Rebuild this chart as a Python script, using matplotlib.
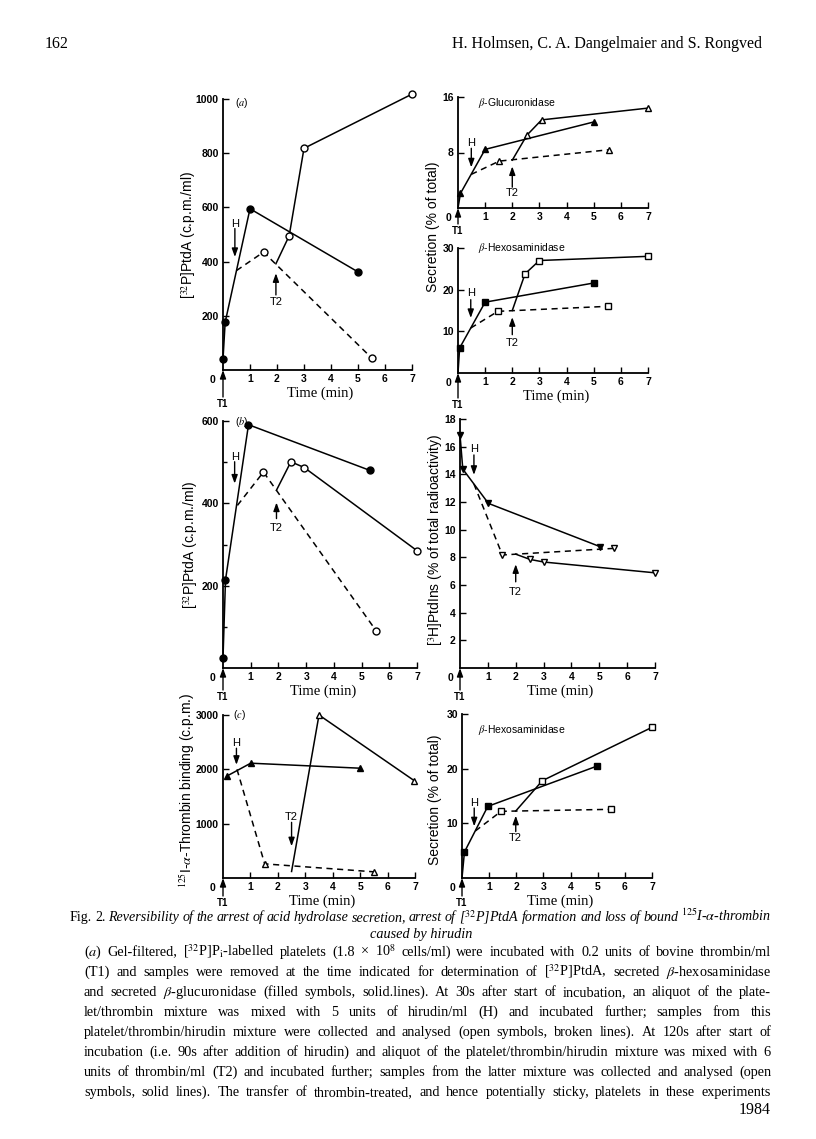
import matplotlib.pyplot as plt

plt.rcParams['font.family'] = ['Liberation Sans', 'DejaVu Sans']
plt.rcParams['mathtext.fontset'] = 'stix'

W, H = 816, 1139
SERIF = 'Liberation Serif'

# ---- data (time in min) ----
# (a) [32P]PtdA, c.p.m./ml ; first vertex of hirudin / T2 series is the branch point
a_ctrl_t = [0, 0.08, 1.0, 5.0]
a_ctrl_v = [40, 176, 595, 362]
a_hir_t = [0.5, 1.5, 5.5]
a_hir_v = [367, 435, 45]
a_t2_t = [1.96, 2.45, 3.0, 7.0]
a_t2_v = [392, 495, 818, 1018]

# (a) beta-glucuronidase secretion, % of total
gl_ctrl_t = [0, 0.09, 1.0, 5.0]
gl_ctrl_v = [0, 2.1, 8.45, 12.4]
gl_hir_t = [0.49, 1.52, 5.57]
gl_hir_v = [4.85, 6.76, 8.4]
gl_t2_t = [2.0, 2.54, 3.08, 7.0]
gl_t2_v = [6.9, 10.5, 12.7, 14.4]

# (a) beta-hexosaminidase secretion, % of total
hx_ctrl_t = [0, 0.06, 1.0, 5.0]
hx_ctrl_v = [0, 6.0, 17.0, 21.6]
hx_hir_t = [0.47, 1.47, 5.51]
hx_hir_v = [10.8, 14.8, 16.0]
hx_t2_t = [2.0, 2.47, 3.0, 7.0]
hx_t2_v = [15.0, 23.8, 27.0, 28.0]

# (b) [32P]PtdA, c.p.m./ml
b_ctrl_t = [0, 0.09, 0.92, 5.3]
b_ctrl_v = [24, 214, 591, 480]
b_hir_t = [0.52, 1.46, 5.53]
b_hir_v = [395, 476, 90]
b_t2_t = [1.93, 2.45, 2.93, 7.0]
b_t2_v = [432, 501, 487, 285]

# (b) [3H]PtdIns, % of total radioactivity
pi_ctrl_t = [0, 0.1, 1.02, 5.03]
pi_ctrl_v = [16.86, 14.38, 11.9, 8.77]
pi_hir_t = [0.5, 1.52, 5.54]
pi_hir_v = [13.3, 8.17, 8.65]
pi_t2_t = [2.0, 2.51, 3.01, 7.0]
pi_t2_v = [8.23, 7.85, 7.66, 6.88]

# (c) 125I-alpha-thrombin binding, c.p.m.
c_ctrl_t = [0.16, 1.01, 4.99]
c_ctrl_v = [1881, 2113, 2021]
c_hir_t = [0.51, 1.52, 5.52]
c_hir_v = [2000, 260, 113]
c_t2_t = [2.5, 3.5, 6.98]
c_t2_v = [120, 3000, 1789]

# (c) beta-hexosaminidase secretion, % of total
ch_ctrl_t = [0, 0.09, 0.95, 4.99]
ch_ctrl_v = [0, 4.76, 13.1, 20.5]
ch_hir_t = [0.49, 1.44, 5.48]
ch_hir_v = [8.6, 12.2, 12.56]
ch_t2_t = [1.98, 2.96, 7.0]
ch_t2_v = [12.25, 17.8, 27.56]

fig = plt.figure(figsize=(W / 100, H / 100), dpi=100)


def axes_px(x0, x1, ytop, ybot):
    return fig.add_axes([x0 / W, 1 - ybot / H, (x1 - x0) / W, (ybot - ytop) / H])


def frame(ax, ymax, yticks, time_label=True, t1_drop=29, minor=None):
    ax.set_xlim(0, 7)
    ax.set_ylim(0, ymax)
    ax.patch.set_visible(False)
    for s in ['top', 'right']:
        ax.spines[s].set_visible(False)
    for s in ['left', 'bottom']:
        ax.spines[s].set_linewidth(1.3)
    ax.set_xticks(range(1, 8))
    ax.set_yticks(yticks)
    if minor:
        ax.set_yticks(minor, minor=True)
        ax.tick_params(axis='y', which='minor', direction='in', length=3, width=1)
    ax.tick_params(direction='in', length=4, width=1, labelsize=7.5, pad=3)
    for lab in ax.get_xticklabels() + ax.get_yticklabels():
        lab.set_fontweight('bold')
    xy = dict(xy=(0, 0), xycoords=('data', 'axes fraction'), textcoords='offset pixels')
    ax.annotate('0', xytext=(-10, -10), ha='center', va='center',
                fontsize=7.5, fontweight='bold', **xy)
    ax.annotate('', xytext=(0, -(t1_drop - 7)), annotation_clip=False,
                arrowprops=dict(arrowstyle='-|>,head_length=0.5,head_width=0.18',
                                lw=1, color='k', shrinkA=0, shrinkB=0), **xy)
    ax.annotate('T1', xytext=(0, -t1_drop), ha='center', va='center',
                fontsize=7, fontweight='bold', **xy)
    if time_label:
        ax.annotate('Time (min)', xy=(3.6, 0), xycoords=('data', 'axes fraction'),
                    xytext=(0, -23), textcoords='offset pixels', ha='center',
                    va='center', fontsize=10.5, family=SERIF)


def series(ax, t, v, marker, filled, dashed=False, first=0, ms=5):
    ax.plot(t, v, color='k', lw=1.1, ls=(0, (4, 3)) if dashed else '-',
            marker=marker, ms=ms, mfc='k' if filled else 'white', mec='k',
            mew=1, markevery=slice(first, None), clip_on=False, zorder=3)


def arrow(ax, x, label, ty, tail, tip):
    ax.annotate('', xy=(x, tip), xytext=(x, tail), annotation_clip=False,
                arrowprops=dict(arrowstyle='-|>,head_length=0.5,head_width=0.18',
                                lw=1, color='k', shrinkA=0, shrinkB=0))
    ax.text(x, ty, label, ha='center', va='center', fontsize=8)


# ---------- panel (a) left ----------
ax = axes_px(223, 412, 99, 370)
frame(ax, 1000, [200, 400, 600, 800, 1000], t1_drop=34)
series(ax, a_ctrl_t, a_ctrl_v, 'o', True)
series(ax, a_hir_t, a_hir_v, 'o', False, dashed=True, first=1)
series(ax, a_t2_t, a_t2_v, 'o', False, first=1)
arrow(ax, 0.44, 'H', 539, 522, 417)
arrow(ax, 1.96, 'T2', 250, 277, 357)

# ---------- glucuronidase ----------
ax = axes_px(458, 648, 97, 208)
frame(ax, 16, [8, 16], time_label=False, t1_drop=23)
series(ax, gl_ctrl_t, gl_ctrl_v, '^', True, first=1, ms=4.5)
series(ax, gl_hir_t, gl_hir_v, '^', False, dashed=True, first=1, ms=4.5)
series(ax, gl_t2_t, gl_t2_v, '^', False, first=1, ms=4.5)
arrow(ax, 0.49, 'H', 9.4, 8.6, 5.85)
arrow(ax, 2.0, 'T2', 2.1, 3.0, 6.0)

# ---------- hexosaminidase (a) ----------
ax = axes_px(458, 648, 248, 373)
frame(ax, 30, [10, 20, 30], t1_drop=32)
series(ax, hx_ctrl_t, hx_ctrl_v, 's', True, first=1, ms=4)
series(ax, hx_hir_t, hx_hir_v, 's', False, dashed=True, first=1, ms=4)
series(ax, hx_t2_t, hx_t2_v, 's', False, first=1, ms=4)
arrow(ax, 0.47, 'H', 19.2, 17.6, 13.2)
arrow(ax, 2.0, 'T2', 7.2, 9.2, 13.4)

# ---------- panel (b) left ----------
ax = axes_px(223, 417, 421, 668)
frame(ax, 600, [200, 400, 600], minor=[100, 300, 500])
series(ax, b_ctrl_t, b_ctrl_v, 'o', True)
series(ax, b_hir_t, b_hir_v, 'o', False, dashed=True, first=1)
series(ax, b_t2_t, b_t2_v, 'o', False, first=1)
arrow(ax, 0.42, 'H', 513, 501, 448)
arrow(ax, 1.93, 'T2', 340, 363, 402)

# ---------- PtdIns ----------
ax = axes_px(460, 655, 419, 668)
frame(ax, 18, list(range(2, 19, 2)))
series(ax, pi_ctrl_t, pi_ctrl_v, 'v', True)
series(ax, pi_hir_t, pi_hir_v, 'v', False, dashed=True, first=1, ms=4.5)
series(ax, pi_t2_t, pi_t2_v, 'v', False, first=1, ms=4.5)
arrow(ax, 0.5, 'H', 15.8, 15.4, 13.96)
arrow(ax, 2.0, 'T2', 5.5, 6.23, 7.5)

# ---------- panel (c) left ----------
ax = axes_px(223, 415, 715, 878)
frame(ax, 3000, [1000, 2000, 3000], t1_drop=25)
series(ax, c_ctrl_t, c_ctrl_v, '^', True, ms=4.5)
series(ax, c_hir_t, c_hir_v, '^', False, dashed=True, first=1, ms=4.5)
series(ax, c_t2_t, c_t2_v, '^', False, first=1, ms=4.5)
arrow(ax, 0.49, 'H', 2480, 2388, 2083)
arrow(ax, 2.5, 'T2', 1122, 1024, 584)

# ---------- hexosaminidase (c) ----------
ax = axes_px(462, 652, 714, 878)
frame(ax, 30, [10, 20, 30], t1_drop=25)
series(ax, ch_ctrl_t, ch_ctrl_v, 's', True, first=1, ms=4)
series(ax, ch_hir_t, ch_hir_v, 's', False, dashed=True, first=1, ms=4)
series(ax, ch_t2_t, ch_t2_v, 's', False, first=1, ms=4)
arrow(ax, 0.45, 'H', 13.7, 12.8, 9.45)
arrow(ax, 1.98, 'T2', 7.3, 8.5, 11.4)

# ---------- axis titles, panel letters, enzyme names ----------
def ftext(x, y, s, **kw):
    fig.text(x / W, 1 - y / H, s, **kw)


ylab = dict(rotation=90, ha='center', va='center', fontsize=10)
ftext(189, 235, r'[$^{32}$P]PtdA (c.p.m./ml)', **ylab)
ftext(433, 227, 'Secretion (% of total)', **ylab)
ftext(191, 545, r'[$^{32}$P]PtdA (c.p.m./ml)', **ylab)
ftext(436, 540, r'[$^{3}$H]PtdIns (% of total radioactivity)', **ylab)
ftext(187, 790, r'$^{125}$I-$\alpha$-Thrombin binding (c.p.m.)', **ylab)
ftext(435, 800, 'Secretion (% of total)', **ylab)

for (x, y, s) in [(242, 103, r'($a$)'), (242, 422, r'($b$)'), (239, 715, r'($c$)')]:
    ftext(x, y, s, ha='center', va='center', fontsize=7.5)
for (y, s) in [(103, r'$\beta$-Glucuronidase'), (248, r'$\beta$-Hexosaminidase'),
               (730, r'$\beta$-Hexosaminidase')]:
    ftext(478, y, s, ha='left', va='center', fontsize=7.5)

# ---------- page header / footer ----------
ftext(45, 44, '162', ha='left', va='center', fontsize=11.5, family=SERIF)
ftext(762, 44, 'H. Holmsen, C. A. Dangelmaier and S. Rongved', ha='right',
      va='center', fontsize=11.5, family=SERIF)
ftext(771, 1110, '1984', ha='right', va='center', fontsize=11.5, family=SERIF)

# ---------- caption (justified) ----------
renderer = fig.canvas.get_renderer()


def justified(line, y, x0, x1, size=10.3, italic_from=None):
    words = line.split(' ')
    arts = []
    for i, w in enumerate(words):
        st = 'italic' if italic_from is not None and i >= italic_from else 'normal'
        arts.append(fig.text(0, 1 - y / H, w, fontsize=size, family=SERIF,
                             style=st, va='baseline'))
    widths = [a.get_window_extent(renderer).width for a in arts]
    if sum(widths) + 3 * (len(words) - 1) > x1 - x0:
        for a in arts:
            a.remove()
        scale = (x1 - x0 - 3 * (len(words) - 1)) / sum(widths)
        return justified(line, y, x0, x1, size * scale, italic_from)
    gap = (x1 - x0 - sum(widths)) / (len(words) - 1)
    x = x0
    for a, wd in zip(arts, widths):
        a.set_x(x / W)
        x += wd + gap


justified(r'Fig. 2. Reversibility of the arrest of acid hydrolase secretion, arrest of '
          r'[$^{32}$P]PtdA formation and loss of bound $^{125}$I-$\alpha$-thrombin',
          921, 70, 771, italic_from=2)
ftext(421, 938, 'caused by hirudin', ha='center', va='baseline', fontsize=10.3,
      family=SERIF, style='italic')

caption = [
    r'($a$) Gel-filtered, [$^{32}$P]P$_\mathrm{i}$-labelled platelets (1.8 × 10$^{8}$ cells/ml) '
    r'were incubated with 0.2 units of bovine thrombin/ml',
    r'(T1) and samples were removed at the time indicated for determination of '
    r'[$^{32}$P]PtdA, secreted $\beta$-hexosaminidase',
    r'and secreted $\beta$-glucuronidase (filled symbols, solid.lines). At 30s after start '
    r'of incubation, an aliquot of the plate-',
    r'let/thrombin mixture was mixed with 5 units of hirudin/ml (H) and incubated '
    r'further; samples from this',
    r'platelet/thrombin/hirudin mixture were collected and analysed (open symbols, '
    r'broken lines). At 120s after start of',
    r'incubation (i.e. 90s after addition of hirudin) and aliquot of the '
    r'platelet/thrombin/hirudin mixture was mixed with 6',
    r'units of thrombin/ml (T2) and incubated further; samples from the latter '
    r'mixture was collected and analysed (open',
    r'symbols, solid lines). The transfer of thrombin-treated, and hence potentially '
    r'sticky, platelets in these experiments',
]
for i, line in enumerate(caption):
    justified(line, 956 + 20 * i, 84, 771)

fig.savefig('out.png', dpi=100)
